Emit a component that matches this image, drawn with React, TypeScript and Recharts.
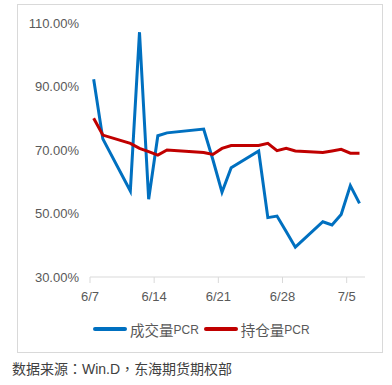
import React from "react";
import { LineChart, Line, XAxis, YAxis } from "recharts";

// trading days (2018), 6/18 holiday
const dates = ["6/7", "6/8", "6/11", "6/12", "6/13", "6/14", "6/15", "6/19", "6/20", "6/21", "6/22",
    "6/25", "6/26", "6/27", "6/28", "6/29", "7/2", "7/3", "7/4", "7/5", "7/6"];
const volumePcr = [92.3, 73.5, 57.1, 107.1, 54.5, 74.5, 75.4, 76.6, 67.0, 56.7, 64.4,
    69.7, 48.7, 49.2, 44.3, 39.4, 47.4, 46.4, 49.7, 58.8, 53.2];
const oiPcr = [80.0, 74.7, 72.1, 70.5, 69.5, 68.4, 70.0, 69.2, 68.6, 70.5, 71.4,
    71.4, 72.1, 69.8, 70.5, 69.7, 69.2, 69.7, 70.2, 69.0, 69.0];
const xTickLabels = ["6/7", "6/14", "6/21", "6/28", "7/5"];
const yTicks = [30, 50, 70, 90, 110];

const BLUE = "#0070C0";
const RED = "#C00000";
const FONT = "'Liberation Sans', Arial, sans-serif";
const CJK = "'Noto Sans CJK SC', sans-serif";
const CJK_PUNCT = "'Noto Sans CJK TC', sans-serif";

const dayOf = (s: string) => {
    const [m, d] = s.split("/").map(Number);
    return (m === 7 ? 30 : 0) + d - 7;
};

const data = dates.map((d, i) => ({
    x: dayOf(d) + 0.4,
    date: d,
    vol: volumePcr[i],
    oi: oiPcr[i],
}));

function LegendItem({ color, name }: { color: string; name: string }) {
    return (
        <div style={{ display: "flex", alignItems: "center", marginRight: 5 }}>
            <span style={{ display: "inline-block", width: 34, height: 4, borderRadius: 2, background: color, marginRight: 3 }} />
            <span style={{ fontFamily: CJK, fontSize: 14.5, color: "#595959" }}>{name}</span>
            <span style={{ fontFamily: FONT, fontSize: 12, color: "#595959", marginTop: 2 }}>PCR</span>
        </div>
    );
}

export default function App() {
    return (
        <div style={{ position: "absolute", left: 0, top: 0, width: 392, height: 385, background: "#fff" }}>
            <div style={{
                position: "absolute", left: 17, top: 4, width: 364, height: 347,
                border: "1px solid #d9d9d9",
            }} />
            <div style={{ position: "absolute", left: 0, top: 0 }}>
                <LineChart width={392} height={310} data={data} margin={{ top: 23, right: 27, bottom: 0, left: 0 }}>
                    <XAxis
                        dataKey="x"
                        type="number"
                        domain={[0, 30]}
                        ticks={xTickLabels.map(dayOf)}
                        tickFormatter={(v: number) => xTickLabels.find((t) => dayOf(t) === v) || ""}
                        height={33}
                        axisLine={{ stroke: "#d9d9d9" }}
                        tickLine={{ stroke: "#d9d9d9" }}
                        tickSize={6}
                        tickMargin={9}
                        tick={{ fill: "#595959", fontSize: 13, fontFamily: FONT }}
                    />
                    <YAxis
                        type="number"
                        domain={[30, 110]}
                        ticks={yTicks}
                        tickFormatter={(v: number) => v.toFixed(2) + "%"}
                        width={90}
                        axisLine={false}
                        tickLine={false}
                        tickSize={0}
                        tickMargin={11}
                        tick={{ fill: "#595959", fontSize: 13, fontFamily: FONT }}
                    />
                    <Line dataKey="vol" stroke={BLUE} strokeWidth={3} dot={false} isAnimationActive={false} />
                    <Line dataKey="oi" stroke={RED} strokeWidth={3} dot={false} isAnimationActive={false} />
                </LineChart>
            </div>
            <div style={{ position: "absolute", left: 93, top: 318, display: "flex", height: 22, alignItems: "center" }}>
                <LegendItem color={BLUE} name="成交量" />
                <LegendItem color={RED} name="持仓量" />
            </div>
            <div style={{
                position: "absolute", left: 12, top: 358, fontFamily: CJK, fontSize: 14, color: "#404040",
                whiteSpace: "nowrap",
            }}>
                数据来源<span style={{ fontFamily: CJK_PUNCT }}>：</span><span style={{ fontFamily: FONT }}>Win.D</span><span style={{ fontFamily: CJK_PUNCT }}>，</span>东海期货期权部
            </div>
        </div>
    );
}
